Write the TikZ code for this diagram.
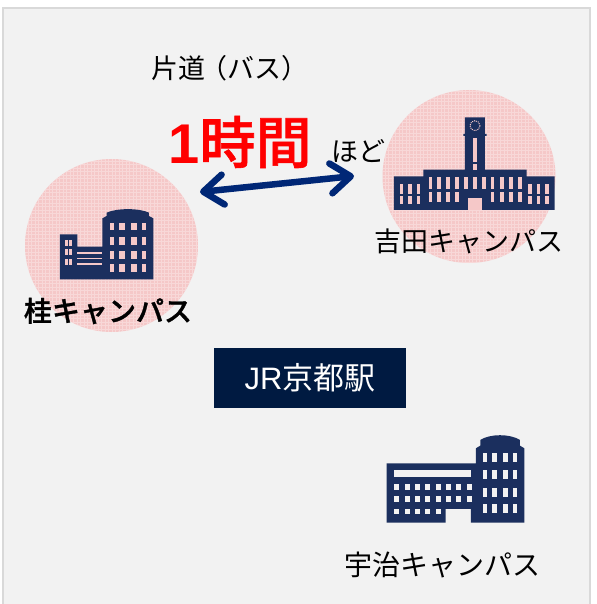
\documentclass[tikz,border=0pt]{standalone}
\usepackage{fontspec}
\setmainfont{Noto Sans CJK JP}
\newfontfamily\medcjk[FakeBold=1.2]{Noto Sans CJK JP Medium}
\newfontfamily\latinsans{Liberation Sans}
\usepackage{xcolor}
\definecolor{fondo}{RGB}{242,242,242}
\definecolor{marco}{RGB}{217,217,217}
\definecolor{rosa}{RGB}{245,200,200}
\definecolor{edificio}{RGB}{27,47,94}
\definecolor{flecha}{RGB}{0,39,118}
\definecolor{caja}{RGB}{0,26,65}
\usetikzlibrary{arrows.meta,calc,positioning}
\tikzstyle{campus}=[circle, fill=rosa, minimum size=173pt,
                    inner sep=0pt, outer sep=0pt]
\tikzstyle{caption}=[inner sep=0pt, font=\fontsize{27}{27}\selectfont]
\tikzstyle{route}=[line width=6.5pt, flecha,
                   {Straight Barb[round,length=20pt,width=30pt]}-{Straight Barb[round,length=20pt,width=30pt]}]
\tikzstyle{zoomed}=[x=0.3333pt, y=-0.3333pt]
\tikzstyle{weave}=[white, opacity=0.3, line width=0.7pt, step=3.5pt]
\begin{document}
\begin{tikzpicture}[x=1pt,y=-1pt]
    \useasboundingbox (0,0) rectangle (596,604);
    \begin{scope}
        \clip (0,0) rectangle (596,604);
        \draw[marco, fill=fondo, line width=2pt] (3,8) rectangle (590,620);
    \end{scope}

    \node (yoshida)[campus] at (469,176.5) {};
    \node (katsura)[campus] at (111.5,245.5) {};
    \foreach \c in {yoshida,katsura}{
        \begin{scope}
            \clip (\c.center) circle (86.5);
            \draw[weave] ($(\c.center)+(-90,-90)$) grid ($(\c.center)+(90,90)$);
        \end{scope}
    }

    % katsura
    \begin{scope}[zoomed, shift={(60,540)}]
        \fill[edificio] (120,298) -- (120,163) -- (172,163) -- (172,200) -- (247,200)
            -- (247,115) -- (260,108) -- (260,98) .. controls (290,84) and (357,84) .. (387,98)
            -- (387,108) -- (400,115) -- (400,298) -- cycle;
        \foreach \y in {128,171,213,252}
            \foreach \x/\w in {270/13,298/17,333/17,366/12}
                \fill[rosa] (\x,\y) rectangle ++(\w,23);
        \foreach \y in {180,208,238}
            \foreach \x in {134,148}
                \fill[rosa] (\x,\y) rectangle ++(9,18);
        \foreach \y in {216,233,250}
            \fill[rosa] (172,\y) rectangle ++(75,5);
    \end{scope}

    % yoshida
    \begin{scope}[zoomed, shift={(1110,255)}]
        \fill[edificio] (72,375) -- (72,274) -- (160,274) -- (160,254) -- (285,254) -- (285,153)
            -- (280,153) -- (280,147) -- (285,147) -- (285,97) -- (345,97) -- (345,147)
            -- (350,147) -- (350,153) -- (345,153) -- (345,254) -- (470,254) -- (470,274)
            -- (554,274) -- (554,375) -- cycle;
        \draw[rosa, line width=1pt, densely dotted] (315,122) circle (15);
        \fill[rosa] (310,160) rectangle (320,230);
        \fill[rosa] (310,238) rectangle (320,255);
        \fill[rosa] (295,340) rectangle (335,375);
        \foreach \x in {90,115,140,475,500,526}
            \foreach \y/\h in {297/31,334/24}
                \fill[rosa] (\x,\y) rectangle ++(10,\h);
        \foreach \x in {176,201,228,256,362,390,417,444}
            \foreach \y/\h in {277/35,320/30}
                \fill[rosa] (\x,\y) rectangle ++(11,\h);
        \foreach \x in {282,309,336}
            \fill[rosa] (\x,277) rectangle ++(11,36);
    \end{scope}

    % uji
    \begin{scope}[zoomed, shift={(1110,1275)}]
        \fill[edificio] (50,293) -- (50,115) -- (318,115) -- (318,70) -- (331,62) -- (331,45)
            .. controls (360,26) and (420,26) .. (450,45) -- (450,62) -- (463,70)
            -- (463,293) -- (303,293) -- (303,252) -- (227,252) -- (227,293) -- cycle;
        \fill[fondo] (73,134) rectangle (303,156);
        \foreach \y in {178,213}
            \foreach \x in {73,104,135,166,197,228,259,290}
                \fill[fondo] (\x,\y) rectangle ++(15,18);
        \foreach \x in {73,104,135,166,197}
            \fill[fondo] (\x,251) rectangle ++(15,17);
        \foreach \y in {85,135,188,237}
            \foreach \x/\w in {340/10,366/16,398/16,430/11}
                \fill[fondo] (\x,\y) rectangle ++(\w,27);
    \end{scope}

    \node (station)[fill=caja, minimum width=192pt, minimum height=60pt, inner sep=0pt,
                    text=white, font=\fontsize{31}{31}\selectfont] at (310,378) {{\latinsans JR}京都駅};

    \node (oneway)[caption, anchor=west] at (151,68) {片道\kern-5pt（バス）};
    \node (hour)[caption, text=red, font=\fontsize{56}{56}\selectfont\medcjk] at (240,142) {{\latinsans\bfseries 1}時間};
    \node (about)[caption] at (358,151) {ほど};
    \node (yoshidaname)[caption] at (469,241) {吉田キャンパス};
    \node (katsuraname)[caption, font=\fontsize{28}{28}\selectfont\medcjk] at (108,311) {桂キャンパス};
    \node (ujiname)[caption, font=\fontsize{28}{28}\selectfont] at (442,565) {宇治キャンパス};

    \coordinate (routea) at (200,192);
    \coordinate (routeb) at (354,176);
    \draw[route] (routea) -- (routeb);
\end{tikzpicture}
\end{document}
